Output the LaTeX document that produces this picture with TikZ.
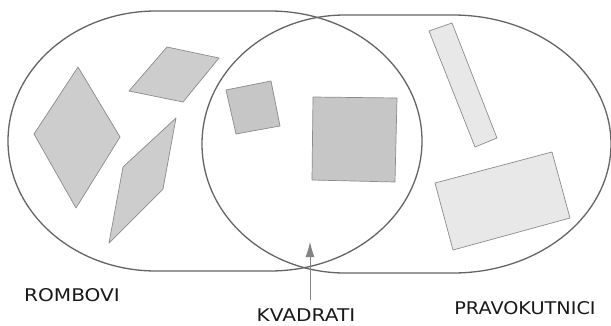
\documentclass[tikz,border=0pt]{standalone}
\usepackage{fontspec}
\setmainfont{DejaVu Sans}
\usetikzlibrary{arrows.meta}
\definecolor{ovalcol}{HTML}{646464}
\definecolor{edgecol}{HTML}{8C8C8C}
\definecolor{rhfill}{HTML}{CDCDCD}
\definecolor{sqfill}{HTML}{C6C6C6}
\definecolor{rectfill}{HTML}{E8E8E8}
\tikzset{
  oval/.style={draw=ovalcol, line width=1.3pt},
  rhombus/.style={draw=edgecol, fill=rhfill, line width=0.7pt, line join=round},
  squarebox/.style={draw=edgecol, fill=sqfill, line width=0.7pt, line join=round},
  rectbox/.style={draw=edgecol, fill=rectfill, line width=0.7pt, line join=round},
  setlabel/.style={font=\fontsize{17.5}{17.5}\selectfont, text=black!90, inner sep=0pt},
}
\begin{document}
\begin{tikzpicture}[x=1pt,y=-1pt]
\useasboundingbox (0,0) rectangle (611,325);
\fill[white] (0,0) rectangle (611,325);

% shapes: rhombi
\draw[rhombus] (78,67) -- (120,137) -- (76,208) -- (34,134) -- cycle;
\draw[rhombus] (167,47) -- (219,58) -- (183,102) -- (129,91) -- cycle;
\draw[rhombus] (176,118) -- (163,189) -- (109,243) -- (123,167) -- cycle;
% squares
\draw[squarebox] (226,90) -- (271,81) -- (280,126) -- (236,134) -- cycle;
\draw[squarebox] (313,97) -- (397,98) -- (395,182) -- (312,180) -- cycle;
% rectangles
\draw[rectbox] (429,31) -- (452,23) -- (497,138) -- (475,147) -- cycle;
\draw[rectbox] (435,183) -- (552,152) -- (570,218) -- (453,250) -- cycle;

% left oval (ROMBOVI)
\draw[oval] (156,11) -- (270,11)
  arc[start angle=90, end angle=-90, x radius=152pt, y radius=130pt]
  -- (156,271)
  arc[start angle=270, end angle=90, x radius=148pt, y radius=130pt]
  -- cycle;
% right oval (PRAVOKUTNICI)
\draw[oval] (345,15) -- (453,15)
  arc[start angle=90, end angle=-90, x radius=158pt, y radius=129pt]
  -- (345,273)
  arc[start angle=270, end angle=90, x radius=143pt, y radius=129pt]
  -- cycle;

% labels
\node[setlabel] (rombovi) at (72,295) {\scalebox{1.15}[1]{ROMBOVI}};
\node[setlabel] (kvadrati) at (306,315) {\scalebox{1.15}[1]{KVADRATI}};
\node[setlabel] (pravokutnici) at (525,308) {\scalebox{1.1}[1]{PRAVOKUTNICI}};

% arrow
\coordinate (tip) at (310,242);
\coordinate (tail) at (310,300);
\draw[draw=ovalcol!80, line width=0.8pt, -{Latex[length=15pt,width=9pt]}] (tail) -- (tip);
\end{tikzpicture}
\end{document}
